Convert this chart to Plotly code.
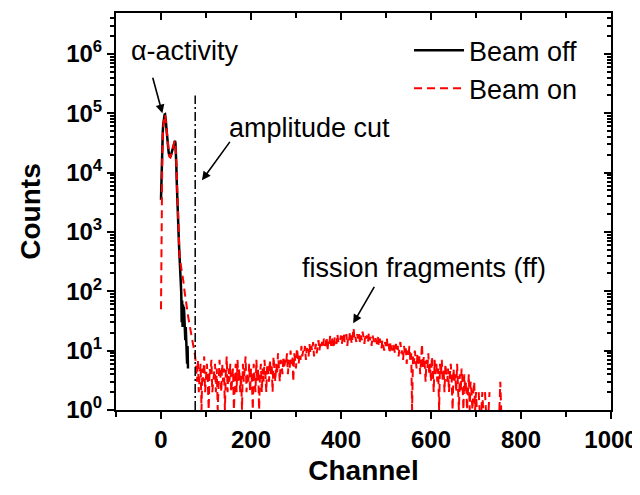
import math
import plotly.graph_objects as go

# ---------------- data ----------------
beam_off_ch = list(range(0, 61))
beam_off_counts = [
    3500, 9000, 20000, 35000, 50000, 65000, 78000, 88000, 95000, 96000,
    88000, 72000, 56000, 44000, 35000, 29000, 25000, 22000, 20000, 19000,
    18500, 18500, 19500, 21000, 23000, 25000, 27000, 29000, 31000, 33000,
    34000, 34500, 32000, 24000, 14000, 7000, 3500, 1900, 1200, 850,
    600, 420, 280, 200, 140, 95, 30, 70, 25, 60,
    40, 55, 22, 35, 15, 25, 9, 17, 6, 12,
    5,
]

beam_on_ch = list(range(0, 77)) + list(range(78, 761, 2))
beam_on_counts = [
    # channels 0-76 (alpha region)
    50, 1500, 9000, 24000, 42000, 60000, 75000, 87000, 94000, 92000,
    84000, 69000, 54000, 42000, 34000, 28000, 24000, 21000, 19500, 18500,
    18000, 18000, 19000, 20500, 22500, 24500, 26500, 28500, 30500, 32500,
    33500, 34000, 31000, 23000, 13000, 6500, 3200, 1800, 1100, 800,
    600, 460, 360, 300, 260, 230, 210, 195, 180, 165,
    145, 125, 105, 90, 78, 68, 60, 54, 48, 43,
    39, 35, 32, 29, 26, 24, 22, 20, 18, 16,
    14, 13, 12, 11, 10, 9, 8,
    # channels 78-116
    5, 3, 7, 2, 4, 6, 1, 5, 3, 8, 2, 4, 6, 3, 1, 5, 4, 7, 2, 3,
    # channels 118-156
    4, 6, 2, 5, 1, 3, 7, 4, 2, 6, 3, 5, 1, 4, 8, 2, 5, 3, 6, 2,
    # channels 158-196
    3, 5, 1, 4, 6, 2, 7, 3, 5, 2, 4, 1, 6, 3, 5, 8, 2, 4, 3, 6,
    # channels 198-236
    2, 5, 3, 1, 6, 4, 2, 7, 3, 5, 1, 4, 6, 2, 5, 3, 7, 4, 2, 6,
    # channels 238-276
    5, 3, 7, 4, 6, 2, 8, 5, 3, 6, 4, 9, 5, 3, 7, 6, 4, 8, 5, 7,
    # channels 278-316
    6, 9, 4, 7, 5, 10, 6, 8, 3, 9, 7, 5, 11, 8, 6, 9, 7, 12, 8, 10,
    # channels 318-356
    9, 12, 7, 11, 10, 8, 13, 9, 12, 10, 14, 8, 11, 13, 9, 12, 15, 10, 13, 11,
    # channels 358-396
    14, 11, 16, 12, 13, 17, 10, 15, 13, 18, 12, 16, 14, 11, 17, 15, 13, 19, 14, 16,
    # channels 398-436
    15, 18, 13, 17, 20, 14, 16, 19, 12, 17, 15, 21, 16, 13, 18, 24, 15, 17, 14, 19,
    # channels 438-476
    16, 20, 14, 18, 15, 21, 17, 13, 19, 16, 18, 14, 20, 15, 17, 12, 18, 16, 14, 17,
    # channels 478-516
    15, 13, 17, 12, 16, 14, 11, 15, 13, 10, 14, 12, 16, 11, 13, 9, 14, 12, 10, 13,
    # channels 518-556
    11, 9, 13, 10, 12, 8, 11, 14, 9, 10, 7, 12, 9, 11, 6, 10, 8, 12, 7, 9,
    # channels 558-596
    1, 8, 6, 10, 7, 5, 9, 6, 8, 4, 7, 13, 5, 8, 6, 3, 7, 5, 9, 4,
    # channels 598-636
    6, 3, 8, 5, 2, 7, 4, 6, 3, 5, 1, 6, 4, 7, 3, 5, 2, 6, 4, 3,
    # channels 638-676
    5, 2, 4, 6, 3, 1, 5, 3, 4, 2, 6, 3, 1, 4, 2, 5, 3, 1, 4, 2,
    # channels 678-716
    3, 1, 2, 4, 1, 3, 2, 1, 2, 3, 1, 2, 1, None, 2, 1, None, 1, 2, 1,
    # channels 718-760
    None, 2, 1, None, None, 1, 2, None, None, None, 1, None, None, None,
    None, None, None, 1, 3, 1, None, None,
]

cut_channel = 76
cut_counts = [1, 2.0e5]

x_tickvals = [0, 200, 400, 600, 800, 1000]
x_minor = [-100, 100, 300, 500, 700, 900]
y_tickvals = [1, 10, 100, 1e3, 1e4, 1e5, 1e6]
y_ticktext = ["<b>10<sup>%d</sup></b>" % k for k in range(7)]
y_minor = [m * 10 ** k for k in range(7) for m in range(2, 10)]

FONT = "Liberation Sans, Arial, sans-serif"
x_range = [-100, 1000]
y_range = [0, 6.69]

# ---------------- figure ----------------
fig = go.Figure()
fig.add_trace(go.Scatter(
    x=beam_off_ch, y=beam_off_counts, mode="lines", name="Beam off",
    line=dict(color="black", width=2.5)))
fig.add_trace(go.Scatter(
    x=beam_on_ch, y=beam_on_counts, mode="lines", name="Beam on",
    line=dict(color="#ff0000", width=2, dash="8px,5px"), connectgaps=False))
fig.add_trace(go.Scatter(
    x=[cut_channel, cut_channel], y=cut_counts, mode="lines", showlegend=False,
    line=dict(color="black", width=1.5, dash="9px,3px,2px,3px")))
fig.add_trace(go.Scatter(x=[None], y=[None], xaxis="x2", yaxis="y2",
                         showlegend=False, hoverinfo="skip"))

axis_common = dict(showline=True, linewidth=2, linecolor="black",
                   showgrid=False, zeroline=False, tickwidth=2, ticklen=7,
                   tickcolor="black", automargin=False)

fig.update_layout(
    width=640, height=495,
    margin=dict(l=108, r=37, t=5, b=93),
    paper_bgcolor="white", plot_bgcolor="white",
    font=dict(family=FONT, color="black"),
    xaxis=dict(range=x_range, ticks="outside", tickvals=x_tickvals,
               tickfont=dict(size=24, weight="bold"),
               minor=dict(tickvals=x_minor, ticks="outside", ticklen=5,
                          tickwidth=2, tickcolor="black"),
               title=dict(text="<b>Channel</b>", font=dict(size=28), standoff=9),
               **axis_common),
    xaxis2=dict(range=x_range, overlaying="x", side="top", anchor="y",
                ticks="inside", tickvals=x_tickvals, showticklabels=False,
                minor=dict(tickvals=x_minor, ticks="inside", ticklen=5,
                           tickwidth=2, tickcolor="black"),
                **axis_common),
    yaxis=dict(type="log", range=y_range, ticks="outside",
               tickvals=y_tickvals, ticktext=y_ticktext,
               tickfont=dict(size=24, weight="bold"),
               minor=dict(tickvals=y_minor, ticks="outside", ticklen=4,
                          tickwidth=1.5, tickcolor="black"),
               title=dict(text="<b>Counts</b>", font=dict(size=28), standoff=17),
               **axis_common),
    yaxis2=dict(type="log", range=y_range, overlaying="y", side="right",
                anchor="x", ticks="inside", tickvals=y_tickvals,
                showticklabels=False,
                minor=dict(tickvals=y_minor, ticks="inside", ticklen=4,
                           tickwidth=1.5, tickcolor="black"),
                **axis_common),
    legend=dict(x=0.592, y=0.967, xanchor="left", yanchor="top",
                bgcolor="rgba(0,0,0,0)", font=dict(size=27), itemwidth=50,
                tracegroupgap=0),
    showlegend=True,
)

# text labels
fig.add_annotation(x=53, y=6.05, text="\u03b1-activity", showarrow=False,
                   font=dict(size=27))
fig.add_annotation(x=329, y=4.76, text="amplitude cut", showarrow=False,
                   font=dict(size=27))
fig.add_annotation(x=584, y=2.39, text="fission fragments (ff)", showarrow=False,
                   font=dict(size=27))

# arrows
arrow = dict(showarrow=True, arrowhead=2, arrowsize=1.1, arrowwidth=1.6,
             arrowcolor="black", text="", standoff=0)
fig.add_annotation(x=3, y=5.0, ax=-10, ay=-37, **arrow)
fig.add_annotation(x=91, y=3.87, ax=29, ay=-40, **arrow)
fig.add_annotation(x=427, y=1.46, ax=22, ay=-38, **arrow)

fig.write_html("out.html")
